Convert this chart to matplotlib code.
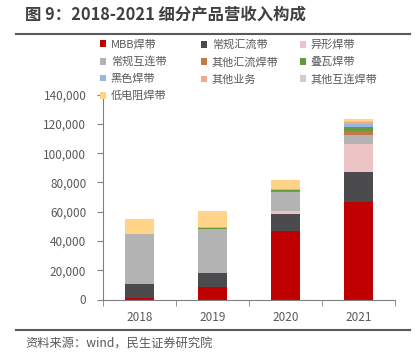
import matplotlib
matplotlib.use("Agg")
import matplotlib.pyplot as plt
import numpy as np
from matplotlib.lines import Line2D
from matplotlib.patches import Patch
from matplotlib.ticker import FuncFormatter, FixedLocator

plt.rcParams['font.family'] = ['Noto Sans CJK SC', 'DejaVu Sans']

years = ["2018", "2019", "2020", "2021"]

# revenue by product (stack order bottom -> top)
mbb = [1000, 8500, 46600, 66900]
regular_bus = [9600, 9400, 11600, 20500]
shaped = [0, 0, 2300, 18700]
regular_link = [34400, 30500, 13000, 6600]
other_bus = [0, 0, 400, 2700]
shingled = [0, 400, 900, 2700]
black = [0, 0, 300, 2100]
other_biz = [0, 600, 400, 1400]
other_link = [0, 300, 300, 700]
low_res = [10200, 10600, 6200, 1400]

series = [mbb, regular_bus, shaped, regular_link, other_bus,
          shingled, black, other_biz, other_link, low_res]
names = ["MBB焊带", "常规汇流带", "异形焊带", "常规互连带", "其他汇流焊带",
         "叠瓦焊带", "黑色焊带", "其他业务", "其他互连焊带", "低电阻焊带"]
colors = ["#C00000", "#4B4B4D", "#EEC3C5", "#B3B3B3", "#C17A45",
          "#64993D", "#95B8E1", "#F2AA8D", "#CDCDCD", "#FFD388"]

text_gray = "#595959"

fig = plt.figure(figsize=(4.17, 3.53), dpi=100)
ax = fig.add_axes([103/417, 1-299.5/353, 292/417, 204.8/353])

x = np.arange(len(years))
bottom = np.zeros(len(years))
for vals, c in zip(series, colors):
    ax.bar(x, vals, width=0.4, bottom=bottom, color=c, linewidth=0)
    bottom += np.array(vals)

ax.set_xlim(-0.5, 3.5)
ax.set_ylim(0, 140000)
ax.set_yticks(np.arange(0, 140001, 20000))
ax.yaxis.set_major_formatter(FuncFormatter(lambda v, p: f"{int(v):,}"))
ax.set_xticks(x)
ax.set_xticklabels(years)
ax.xaxis.set_minor_locator(FixedLocator([-0.5, 0.5, 1.5, 2.5, 3.5]))
ax.tick_params(axis='x', which='major', length=0, pad=8, labelsize=8.5, labelcolor=text_gray)
ax.tick_params(axis='x', which='minor', length=4, color="#808080")
ax.tick_params(axis='y', length=4, color="#808080", pad=8, labelsize=8.5, labelcolor=text_gray)
for s in ["top", "right"]:
    ax.spines[s].set_visible(False)
for s in ["left", "bottom"]:
    ax.spines[s].set_color("#808080")

# legend: three fixed-width columns, filled row by row
handles = [Patch(facecolor=c, edgecolor='none') for c in colors]
col_x = [100/417, 201/417, 300/417]
for ci in range(3):
    idx = list(range(ci, len(names), 3))
    leg = fig.legend([handles[i] for i in idx], [names[i] for i in idx],
                     loc='upper left', bbox_to_anchor=(col_x[ci], 1-39.5/353),
                     frameon=False, fontsize=8, handlelength=0.55, handleheight=0.55,
                     handletextpad=0.4, labelspacing=0.62, borderpad=0, borderaxespad=0)
    for t in leg.get_texts():
        t.set_color(text_gray)

fig.text(25/417, 1-15/353, "图 9：2018-2021 细分产品营收入构成", fontsize=11.8,
         fontweight='bold', color="#404040", va='center', ha='left')
fig.add_artist(Line2D([16/417, 410/417], [1-34/353, 1-34/353], color="#595959", lw=1.5))
fig.add_artist(Line2D([16/417, 410/417], [1-330/353, 1-330/353], color="#595959", lw=1.5))
fig.text(25/417, 1-344/353, "资料来源：wind，民生证券研究院", fontsize=8.8,
         color=text_gray, va='center', ha='left')

fig.savefig("out.png", dpi=100)
